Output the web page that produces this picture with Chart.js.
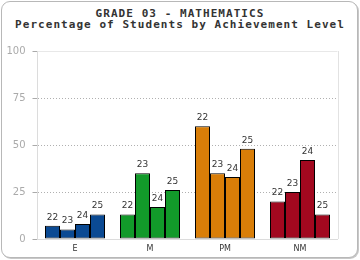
<!DOCTYPE html>
<html>
<head>
<meta charset="utf-8">
<script src="https://cdn.jsdelivr.net/npm/chart.js@4/dist/chart.umd.min.js"></script>
<style>
  html, body { margin: 0; padding: 0; background: #fff; }
  #wrap { position: relative; width: 360px; height: 260px; overflow: hidden; }
  #card { position: absolute; left: 1px; top: 1px; width: 355px; height: 255px;
          border: 1px solid #b8b8b8; border-radius: 9px; box-shadow: 1px 1px 0 #c8c8c8; background: #fff; }
  #title { position: absolute; left: 0; top: 8px; width: 360px; text-align: center;
           font-family: "DejaVu Sans Mono", monospace; font-weight: bold; font-size: 11px;
           letter-spacing: 1.05px; line-height: 11px; color: #333; }
  canvas { position: absolute; left: 0; top: 0; }
</style>
</head>
<body>
<div id="wrap">
  <div id="card"></div>
  <div id="title">GRADE 03 - MATHEMATICS<br>Percentage of Students by Achievement Level</div>
  <canvas id="c" width="360" height="260"></canvas>
</div>
<script>
const categories = ['E', 'M', 'PM', 'NM'];
const years = ['22', '23', '24', '25'];
const y22 = [7, 13, 60, 20];
const y23 = [5, 35, 35, 25];
const y24 = [8, 17, 33, 42];
const y25 = [13, 26, 48, 13];
const yTicks = [0, 25, 50, 75, 100];
const categoryColors = ['#0b4a93', '#129a2a', '#d97e08', '#a2081f'];

const seriesValues = [y22, y23, y24, y25];

const labelPlugin = {
  id: 'barLabels',
  afterDatasetsDraw(chart) {
    const ctx = chart.ctx;
    ctx.save();
    ctx.font = '9px "DejaVu Sans"';
    ctx.fillStyle = '#333';
    ctx.textAlign = 'center';
    ctx.textBaseline = 'bottom';
    chart.data.datasets.forEach((ds, i) => {
      const meta = chart.getDatasetMeta(i);
      meta.data.forEach(bar => {
        ctx.fillText(ds.label, bar.x, bar.y - 4);
      });
    });
    ctx.restore();
  }
};

const rightBorder = {
  id: 'rightBorder',
  beforeDatasetsDraw(chart) {
    const a = chart.chartArea, ctx = chart.ctx;
    ctx.save();
    ctx.strokeStyle = '#e2e2e2';
    ctx.lineWidth = 1;
    ctx.beginPath();
    ctx.moveTo(Math.round(a.right) + 0.5, a.top);
    ctx.lineTo(Math.round(a.right) + 0.5, a.bottom);
    ctx.stroke();
    ctx.restore();
  }
};

new Chart(document.getElementById('c'), {
  type: 'bar',
  data: {
    labels: categories,
    datasets: years.map((y, i) => ({
      label: y,
      data: seriesValues[i],
      backgroundColor: categoryColors,
      borderColor: '#000',
      borderWidth: 1,
      borderSkipped: false,
      inflateAmount: 0,
      categoryPercentage: 0.8,
      barPercentage: 1.0
    }))
  },
  options: {
    responsive: false,
    animation: false,
    devicePixelRatio: 1,
    layout: { padding: { left: 4.5, right: 22.5, top: 51, bottom: 0 } },
    plugins: { legend: { display: false }, title: { display: false }, tooltip: { enabled: false } },
    scales: {
      x: {
        grid: { display: false, drawTicks: false },
        border: { display: true, color: '#dcdcdc', width: 1 },
        ticks: { font: { family: 'DejaVu Sans', size: 8 }, color: '#333', padding: 5 },
        afterFit(s) { s.height = 21; }
      },
      y: {
        min: 0, max: 100,
        afterBuildTicks(s) { s.ticks = yTicks.map(v => ({ value: v })); },
        grid: {
          color: ctx => {
            if (!ctx.tick) return '#ddd';
            if (ctx.tick.value === 0) return 'rgba(0,0,0,0)';
            if (ctx.tick.value === 100) return '#e8e8e8';
            return '#b0b0b0';
          },
          tickColor: '#aaa',
          tickLength: 5,
          tickBorderDash: [],
          lineWidth: 1
        },
        border: {
          display: true, color: '#dcdcdc', width: 1,
          dash: ctx => (ctx.tick && ctx.tick.value !== 100 && ctx.tick.value !== 0) ? [1, 2] : []
        },
        ticks: { font: { family: 'DejaVu Sans', size: 10 }, color: '#aaa', padding: 7 },
        afterFit(s) { s.width = 33; }
      }
    }
  },
  plugins: [rightBorder, labelPlugin]
});
</script>
</body>
</html>
